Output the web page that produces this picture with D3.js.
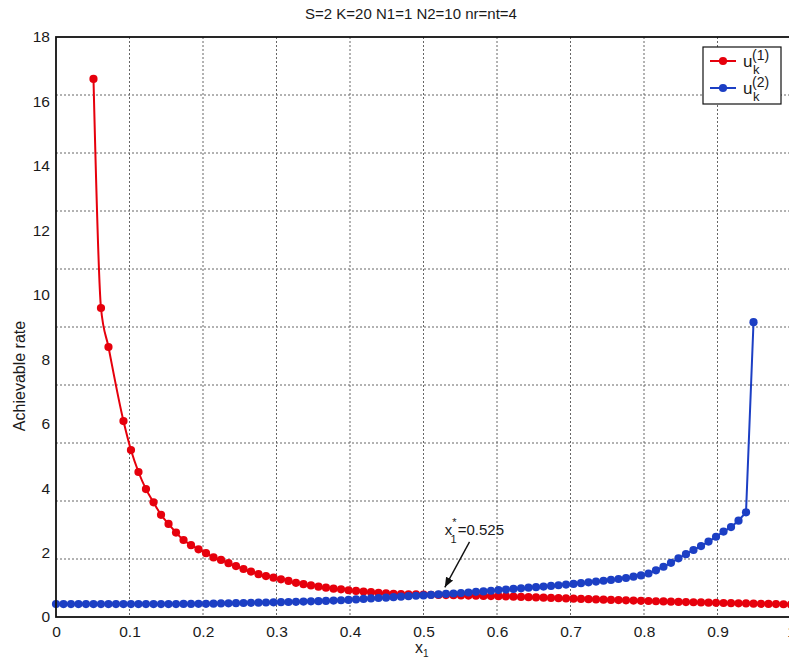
<!DOCTYPE html>
<html>
<head>
<meta charset="utf-8">
<script src="https://cdn.jsdelivr.net/npm/d3@7"></script>
<style>
  body { margin: 0; background: #fff; }
  text { font-family: "Liberation Sans", Arial, sans-serif; fill: #1a1a1a; }
</style>
</head>
<body>
<div id="chart"></div>
<script>
// x1 sample points (k/98)
var xGrid = [0, .0102, .0204, .0306, .0408, .0510, .0612, .0714, .0816, .0918,
  .1020, .1122, .1224, .1327, .1429, .1531, .1633, .1735, .1837, .1939,
  .2041, .2143, .2245, .2347, .2449, .2551, .2653, .2755, .2857, .2959,
  .3061, .3163, .3265, .3367, .3469, .3571, .3673, .3776, .3878, .3980,
  .4082, .4184, .4286, .4388, .4490, .4592, .4694, .4796, .4898, .5000,
  .5102, .5204, .5306, .5408, .5510, .5612, .5714, .5816, .5918, .6020,
  .6122, .6224, .6327, .6429, .6531, .6633, .6735, .6837, .6939, .7041,
  .7143, .7245, .7347, .7449, .7551, .7653, .7755, .7857, .7959, .8061,
  .8163, .8265, .8367, .8469, .8571, .8673, .8776, .8878, .8980, .9082,
  .9184, .9286, .9388, .9490, .9592, .9694, .9796, .9898, 1]

// u_k^(1): shown at k = 5,6,7 and 9..98
var redX = xGrid.slice(5, 8).concat(xGrid.slice(9))
var redY = [16.7, 9.59, 8.38,
  6.08, 5.18, 4.50, 3.97, 3.56, 3.17, 2.89, 2.62, 2.39, 2.23,
  2.10, 1.98, 1.85, 1.77, 1.67, 1.58, 1.49, 1.41, 1.33, 1.27,
  1.22, 1.17, 1.12, 1.06, 1.02, 0.98, 0.94, 0.91, 0.88, 0.86,
  0.83, 0.81, 0.79, 0.77, 0.75, 0.735, 0.72, 0.71, 0.705, 0.70,
  0.695, 0.69, 0.685, 0.68, 0.675, 0.67, 0.665, 0.66, 0.655, 0.65,
  0.645, 0.64, 0.632, 0.624, 0.616, 0.608, 0.60, 0.592, 0.584, 0.576,
  0.568, 0.56, 0.552, 0.545, 0.538, 0.531, 0.524, 0.517, 0.51, 0.503,
  0.496, 0.489, 0.482, 0.475, 0.469, 0.463, 0.457, 0.451, 0.445, 0.44,
  0.435, 0.43, 0.425, 0.42, 0.415, 0.41, 0.405, 0.40, 0.395, 0.39]

// u_k^(2): k = 0..93
var blueX = xGrid.slice(0, 94)
var blueY = [0.40, 0.40, 0.40, 0.40, 0.40, 0.40, 0.40, 0.40, 0.40, 0.40,
  0.40, 0.40, 0.40, 0.40, 0.40, 0.40, 0.40, 0.405, 0.405, 0.41,
  0.41, 0.415, 0.42, 0.425, 0.43, 0.435, 0.44, 0.445, 0.45, 0.455,
  0.46, 0.465, 0.47, 0.48, 0.485, 0.49, 0.50, 0.51, 0.52, 0.53,
  0.545, 0.56, 0.575, 0.59, 0.60, 0.615, 0.63, 0.645, 0.66, 0.67,
  0.685, 0.70, 0.715, 0.73, 0.745, 0.76, 0.78, 0.795, 0.815, 0.835,
  0.85, 0.87, 0.89, 0.91, 0.925, 0.945, 0.965, 0.985, 1.005, 1.025,
  1.05, 1.075, 1.10, 1.125, 1.15, 1.18, 1.21, 1.25, 1.29, 1.35,
  1.45, 1.56, 1.68, 1.82, 1.95, 2.08, 2.20, 2.34, 2.49, 2.65,
  2.79, 2.99, 3.25, 9.15]

var xTicks = [0, 0.1, 0.2, 0.3, 0.4, 0.5, 0.6, 0.7, 0.8, 0.9, 1]
var yTicks = [0, 2, 4, 6, 8, 10, 12, 14, 16, 18]
// the grid in the figure has 10 rows, not matching the labels
var yGrid = [1.8, 3.6, 5.4, 7.2, 9, 10.8, 12.6, 14.4, 16.2]

var title = 'S=2 K=20 N1=1 N2=10 nr=nt=4'
var optX = 0.525
var red = '#e6000c'
var blue = '#1c3fc4'

var svgw = 789
var svgh = 661
var margin = {top: 37, left: 56, right: 0, bottom: 44}
var w = 735
var h = 580

var svg = d3.select('#chart').append('svg')
  .attr('width', svgw)
  .attr('height', svgh)

var x = d3.scaleLinear().domain([0, 1]).range([0, w])
var y = d3.scaleLinear().domain([0, 18]).range([h, 0])

var g = svg.append('g').attr('transform', 'translate(' + margin.left + ',' + margin.top + ')')

// grid
g.selectAll('.vgrid')
  .data(xTicks.slice(1, -1))
  .enter().append('line')
  .attr('class', 'vgrid')
  .attr('x1', d => x(d)).attr('x2', d => x(d))
  .attr('y1', 0).attr('y2', h)
  .attr('stroke', '#666').attr('stroke-width', 1).attr('stroke-dasharray', '2,2')

g.selectAll('.hgrid')
  .data(yGrid)
  .enter().append('line')
  .attr('class', 'hgrid')
  .attr('x1', 0).attr('x2', w)
  .attr('y1', d => y(d)).attr('y2', d => y(d))
  .attr('stroke', '#666').attr('stroke-width', 1).attr('stroke-dasharray', '2,2')

// axes
var xAxis = g.append('g')
  .attr('transform', 'translate(0,' + h + ')')
  .call(d3.axisBottom(x).tickValues(xTicks).tickSize(0).tickPadding(9).tickFormat(d => String(d)))
xAxis.select('.domain').remove()
xAxis.selectAll('text').attr('font-size', 15.5).attr('fill', '#1a1a1a').attr('font-family', '"Liberation Sans", Arial, sans-serif')

var yAxis = g.append('g')
  .call(d3.axisLeft(y).tickValues(yTicks).tickSize(0).tickPadding(6))
yAxis.select('.domain').remove()
yAxis.selectAll('text').attr('font-size', 15.5).attr('fill', '#1a1a1a').attr('font-family', '"Liberation Sans", Arial, sans-serif')

// series
function series(xs, ys, color, curve) {
  var pts = xs.map((d, i) => [d, ys[i]])
  var line = d3.line().x(d => x(d[0])).y(d => y(d[1])).curve(curve)
  g.append('path')
    .datum(pts)
    .attr('d', line)
    .attr('fill', 'none')
    .attr('stroke', color)
    .attr('stroke-width', 2)
  g.append('g')
    .selectAll('circle')
    .data(pts)
    .enter().append('circle')
    .attr('cx', d => x(d[0]))
    .attr('cy', d => y(d[1]))
    .attr('r', 4.1)
    .attr('fill', color)
}
series(redX, redY, red, d3.curveMonotoneX)
series(blueX, blueY, blue, d3.curveLinear)

// frame
g.append('rect')
  .attr('x', 0).attr('y', 0).attr('width', w).attr('height', h)
  .attr('fill', 'none').attr('stroke', '#111').attr('stroke-width', 1.8)

// annotation
svg.append('defs').append('marker')
  .attr('id', 'arrow')
  .attr('viewBox', '0 0 10 10')
  .attr('refX', 10).attr('refY', 5)
  .attr('markerWidth', 10).attr('markerHeight', 10)
  .attr('markerUnits', 'userSpaceOnUse')
  .attr('orient', 'auto')
  .append('path').attr('d', 'M0,1 L10,5 L0,9 Z').attr('fill', '#111')

g.append('line')
  .attr('x1', x(0.5626)).attr('y1', y(2.33))
  .attr('x2', x(optX + 0.004)).attr('y2', y(0.92))
  .attr('stroke', '#111').attr('stroke-width', 1.4)
  .attr('marker-end', 'url(#arrow)')

var ann = g.append('text')
  .attr('x', x(optX + 0.004)).attr('y', y(2.55))
  .attr('font-size', 15)
ann.append('tspan').text('x')
ann.append('tspan').attr('font-size', 11).attr('dy', -9).attr('dx', 0).text('*')
ann.append('tspan').attr('font-size', 11).attr('dy', 17).attr('dx', -6).text('1')
ann.append('tspan').attr('dy', -8).attr('dx', 1).text('=' + optX)

// title and labels
svg.append('text')
  .attr('x', 411).attr('y', 19)
  .attr('text-anchor', 'middle')
  .attr('font-size', 15)
  .text(title)

svg.append('text')
  .attr('transform', 'translate(25,376) rotate(-90)')
  .attr('text-anchor', 'middle')
  .attr('font-size', 16)
  .text('Achievable rate')

var xl = svg.append('text')
  .attr('x', 415).attr('y', 653)
  .attr('font-size', 16)
xl.append('tspan').text('x')
xl.append('tspan').attr('font-size', 10).attr('dy', 4).text('1')

// legend
var leg = svg.append('g').attr('transform', 'translate(703,47)')
leg.append('rect')
  .attr('width', 78).attr('height', 57)
  .attr('fill', '#fff').attr('stroke', '#111').attr('stroke-width', 1.2)
var legItems = [{c: red, n: '(1)', y: 14}, {c: blue, n: '(2)', y: 41}]
legItems.forEach(function(it) {
  leg.append('line')
    .attr('x1', 7).attr('x2', 33).attr('y1', it.y).attr('y2', it.y)
    .attr('stroke', it.c).attr('stroke-width', 2)
  leg.append('circle').attr('cx', 20).attr('cy', it.y).attr('r', 4.1).attr('fill', it.c)
  leg.append('text').attr('x', 40).attr('y', it.y + 6).attr('font-size', 17).text('u')
  leg.append('text').attr('x', 49).attr('y', it.y - 1).attr('font-size', 14).text(it.n)
  leg.append('text').attr('x', 50).attr('y', it.y + 13).attr('font-size', 13).text('k')
})
</script>
</body>
</html>
